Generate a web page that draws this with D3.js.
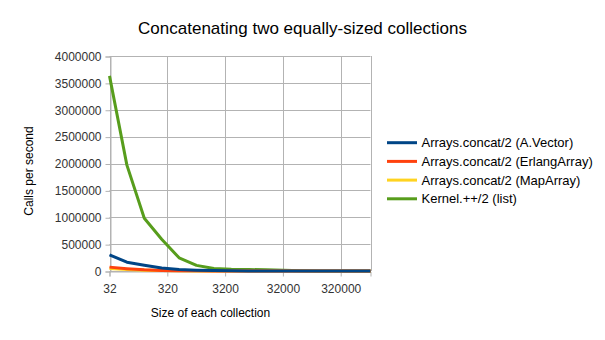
<!DOCTYPE html>
<html>
<head>
<meta charset="utf-8">
<script src="https://cdn.jsdelivr.net/npm/d3@7"></script>
<style>
  body { margin: 0; background: #fff; }
  text { font-family: "Liberation Sans", Arial, sans-serif; }
</style>
</head>
<body>
<div id="chart"></div>
<script>
// collection sizes (x), doubling each step
var sizes = [32, 64, 128, 256, 512, 1024, 2048, 4096, 8192, 16384, 32768, 65536, 131072, 262144, 524288, 1048576];
var seriesNames = ["Arrays.concat/2 (A.Vector)", "Arrays.concat/2 (ErlangArray)", "Arrays.concat/2 (MapArray)", "Kernel.++/2 (list)"];
var vectorCalls = [300000, 163000, 108000, 55000, 27000, 14000, 7000, 3500, 1800, 900, 450, 220, 110, 55, 28, 14];
var erlangCalls = [72000, 44000, 22000, 11000, 5500, 2800, 1400, 700, 350, 175, 90, 45, 22, 11, 6, 3];
var mapCalls = [48000, 30000, 16000, 8000, 4000, 2000, 1000, 500, 250, 125, 60, 30, 15, 8, 4, 2];
var listCalls = [3630000, 1970000, 980000, 590000, 245000, 105000, 48000, 32000, 28000, 22000, 12000, 4000, 1500, 700, 350, 170];
var xTicks = [32, 320, 3200, 32000, 320000];
var yTicks = [0, 500000, 1000000, 1500000, 2000000, 2500000, 3000000, 3500000, 4000000];
var colors = ["#004586", "#ff420e", "#ffd320", "#579d1c"];

var W = 605, H = 340;
var pLeft = 109.5, pRight = 370.5, pTop = 56, pBottom = 271;

var svg = d3.select("#chart").append("svg")
    .attr("width", W)
    .attr("height", H);

var x = d3.scaleLog().domain([32, 1048576]).range([pLeft, pRight]);
var y = d3.scaleLinear().domain([0, 4000000]).range([pBottom, pTop]);

// grid
svg.append("g").selectAll("line")
    .data(yTicks)
    .enter().append("line")
    .attr("x1", pLeft).attr("x2", pRight)
    .attr("y1", function(d){ return Math.round(y(d)) + 0.5; })
    .attr("y2", function(d){ return Math.round(y(d)) + 0.5; })
    .style("stroke", "#b3b3b3");

svg.append("g").selectAll("line")
    .data(xTicks.concat([1048576]))
    .enter().append("line")
    .attr("y1", pTop).attr("y2", pBottom)
    .attr("x1", function(d){ return Math.round(x(d)) + 0.5; })
    .attr("x2", function(d){ return Math.round(x(d)) + 0.5; })
    .style("stroke", "#b3b3b3");

// axes
var yAxis = d3.axisLeft(y).tickValues(yTicks).tickSize(5).tickPadding(4).tickFormat(d3.format("d"));
var gy = svg.append("g").attr("transform", "translate(" + (Math.round(pLeft) + 0.5) + ",0.5)").call(yAxis);
var xAxis = d3.axisBottom(x).tickValues(xTicks).tickSize(5).tickPadding(8).tickFormat(d3.format("d"));
var gx = svg.append("g").attr("transform", "translate(0," + (pBottom + 0.5) + ")").call(xAxis);

[gy, gx].forEach(function(g){
    g.select(".domain").style("stroke", "#b3b3b3");
    g.selectAll(".tick line").style("stroke", "#b3b3b3");
    g.selectAll(".tick text")
        .style("font-family", "Liberation Sans, Arial, sans-serif")
        .style("font-size", "12px")
        .style("fill", "#333");
});

// lines
var allSeries = [vectorCalls, erlangCalls, mapCalls, listCalls];
var line = d3.line()
    .x(function(d, i){ return x(sizes[i]); })
    .y(function(d){ return y(d); });

// draw order so blue ends up on top, red over yellow
[3, 2, 1, 0].forEach(function(k){
    svg.append("path")
        .datum(allSeries[k])
        .attr("d", line)
        .style("fill", "none")
        .style("stroke", colors[k])
        .style("stroke-width", 3)
        .style("stroke-linejoin", "round");
});

// titles
svg.append("text")
    .attr("x", 302.5).attr("y", 34)
    .attr("text-anchor", "middle")
    .style("font-size", "17px")
    .style("fill", "#000")
    .text("Concatenating two equally-sized collections");

svg.append("text")
    .attr("x", 210.5).attr("y", 317)
    .attr("text-anchor", "middle")
    .style("font-size", "12px")
    .style("fill", "#000")
    .text("Size of each collection");

svg.append("text")
    .attr("transform", "translate(33,171) rotate(-90)")
    .attr("text-anchor", "middle")
    .style("font-size", "12px")
    .style("fill", "#000")
    .text("Calls per second");

// legend
var legend = svg.selectAll(".legend")
    .data(seriesNames)
    .enter().append("g")
    .attr("class", "legend")
    .attr("transform", function(d, i){ return "translate(387," + (142.7 + i * 18.7) + ")"; });

legend.append("line")
    .attr("x1", 0).attr("x2", 30)
    .style("stroke", function(d, i){ return colors[i]; })
    .style("stroke-width", 3);

legend.append("text")
    .attr("x", 34.5).attr("y", 4.5)
    .style("font-size", "13px")
    .style("fill", "#000")
    .text(function(d){ return d; });
</script>
</body>
</html>
